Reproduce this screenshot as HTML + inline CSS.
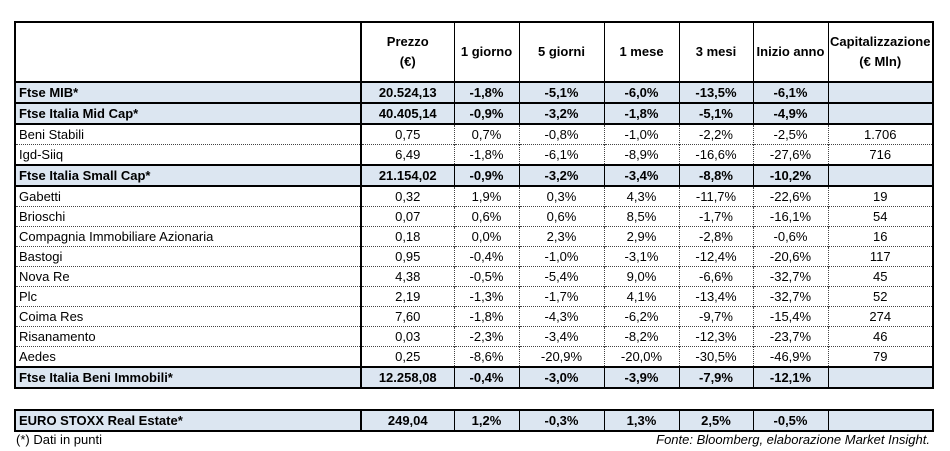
<!DOCTYPE html>
<html><head><meta charset="utf-8"><style>
body{margin:0;width:950px;height:451px;background:#fff;position:relative;overflow:hidden;font-family:"Liberation Sans",sans-serif;color:#000}
table{position:absolute;left:14px;border-collapse:collapse;table-layout:fixed;font-size:13px}
td{padding:0;white-space:nowrap;overflow:hidden;text-align:center;border-left:1px dotted #444;border-top:1px dotted #444;height:19px;line-height:18px}
td:first-child{text-align:left;padding-left:3px;border-left:2px solid #000}
td:nth-child(2){border-left:2px solid #000}
td:last-child{border-right:2px solid #000}
tr.b td{background:#dce6f1;font-weight:bold;border-top:2px solid #000;border-bottom:2px solid #000;border-left-style:solid;border-left-color:#000}
tr.b td:first-child,tr.b td:nth-child(2){border-left-width:2px}
tr.h td{height:58px;font-weight:bold;border-top:2px solid #000;border-left-style:solid;border-left-color:#000;line-height:20px}
tr.h td:first-child,tr.h td:nth-child(2){border-left-width:2px}
.f{position:absolute;top:432px;font-size:13px}
</style></head><body>
<table style="top:21px">
<colgroup><col style="width:346px"><col style="width:93px"><col style="width:65px"><col style="width:85px"><col style="width:75px"><col style="width:74px"><col style="width:75px"><col style="width:105px"></colgroup>
<tr class="h"><td></td><td>Prezzo<br>(€)</td><td>1 giorno</td><td>5 giorni</td><td>1 mese</td><td>3 mesi</td><td>Inizio anno</td><td>Capitalizzazione<br>(€ Mln)</td></tr>
<tr class="b"><td>Ftse MIB*</td><td>20.524,13</td><td>-1,8%</td><td>-5,1%</td><td>-6,0%</td><td>-13,5%</td><td>-6,1%</td><td></td></tr>
<tr class="b"><td>Ftse Italia Mid Cap*</td><td>40.405,14</td><td>-0,9%</td><td>-3,2%</td><td>-1,8%</td><td>-5,1%</td><td>-4,9%</td><td></td></tr>
<tr><td>Beni Stabili</td><td>0,75</td><td>0,7%</td><td>-0,8%</td><td>-1,0%</td><td>-2,2%</td><td>-2,5%</td><td>1.706</td></tr>
<tr><td>Igd-Siiq</td><td>6,49</td><td>-1,8%</td><td>-6,1%</td><td>-8,9%</td><td>-16,6%</td><td>-27,6%</td><td>716</td></tr>
<tr class="b"><td>Ftse Italia Small Cap*</td><td>21.154,02</td><td>-0,9%</td><td>-3,2%</td><td>-3,4%</td><td>-8,8%</td><td>-10,2%</td><td></td></tr>
<tr><td>Gabetti</td><td>0,32</td><td>1,9%</td><td>0,3%</td><td>4,3%</td><td>-11,7%</td><td>-22,6%</td><td>19</td></tr>
<tr><td>Brioschi</td><td>0,07</td><td>0,6%</td><td>0,6%</td><td>8,5%</td><td>-1,7%</td><td>-16,1%</td><td>54</td></tr>
<tr><td>Compagnia Immobiliare Azionaria</td><td>0,18</td><td>0,0%</td><td>2,3%</td><td>2,9%</td><td>-2,8%</td><td>-0,6%</td><td>16</td></tr>
<tr><td>Bastogi</td><td>0,95</td><td>-0,4%</td><td>-1,0%</td><td>-3,1%</td><td>-12,4%</td><td>-20,6%</td><td>117</td></tr>
<tr><td>Nova Re</td><td>4,38</td><td>-0,5%</td><td>-5,4%</td><td>9,0%</td><td>-6,6%</td><td>-32,7%</td><td>45</td></tr>
<tr><td>Plc</td><td>2,19</td><td>-1,3%</td><td>-1,7%</td><td>4,1%</td><td>-13,4%</td><td>-32,7%</td><td>52</td></tr>
<tr><td>Coima Res</td><td>7,60</td><td>-1,8%</td><td>-4,3%</td><td>-6,2%</td><td>-9,7%</td><td>-15,4%</td><td>274</td></tr>
<tr><td>Risanamento</td><td>0,03</td><td>-2,3%</td><td>-3,4%</td><td>-8,2%</td><td>-12,3%</td><td>-23,7%</td><td>46</td></tr>
<tr><td>Aedes</td><td>0,25</td><td>-8,6%</td><td>-20,9%</td><td>-20,0%</td><td>-30,5%</td><td>-46,9%</td><td>79</td></tr>
<tr class="b"><td>Ftse Italia Beni Immobili*</td><td>12.258,08</td><td>-0,4%</td><td>-3,0%</td><td>-3,9%</td><td>-7,9%</td><td>-12,1%</td><td></td></tr>
</table>
<table style="top:409px">
<colgroup><col style="width:346px"><col style="width:93px"><col style="width:65px"><col style="width:85px"><col style="width:75px"><col style="width:74px"><col style="width:75px"><col style="width:105px"></colgroup>
<tr class="b"><td>EURO STOXX Real Estate*</td><td>249,04</td><td>1,2%</td><td>-0,3%</td><td>1,3%</td><td>2,5%</td><td>-0,5%</td><td></td></tr>
</table>
<div class="f" style="left:16px">(*) Dati in punti</div>
<div class="f" style="right:20px;font-style:italic">Fonte: Bloomberg, elaborazione Market Insight.</div>
</body></html>
